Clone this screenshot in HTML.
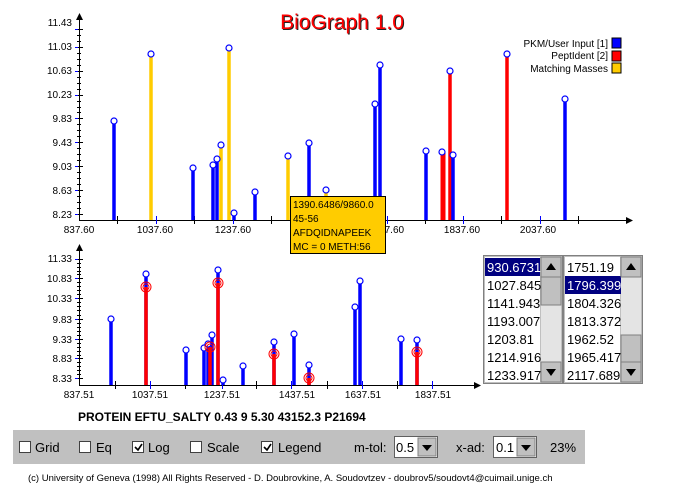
<!DOCTYPE html>
<html><head><meta charset="utf-8"><style>
body{margin:0;width:690px;height:488px;background:#fff;overflow:hidden;font-family:"Liberation Sans",sans-serif;}
svg{position:absolute;left:0;top:0}
text{font-family:"Liberation Sans",sans-serif}
</style></head><body>
<svg width="690" height="488" viewBox="0 0 690 488">
<text x="343" y="30" font-size="21" fill="#222" text-anchor="middle">BioGraph 1.0</text>
<text x="342" y="29" font-size="21" fill="#ff0000" text-anchor="middle">BioGraph 1.0</text>
<g font-size="10" text-anchor="end" fill="#000">
<text x="608" y="47">PKM/User Input [1]</text>
<text x="608" y="59">PeptIdent [2]</text>
<text x="608" y="72">Matching Masses</text>
</g>
<rect x="612" y="38" width="9" height="10" fill="#0000ff" stroke="#000"/>
<rect x="612" y="51" width="9" height="10" fill="#ff0000" stroke="#000"/>
<rect x="612" y="63" width="9" height="10" fill="#ffcc00" stroke="#000"/>
<g stroke="#000" stroke-width="1">
<line x1="79.5" y1="18" x2="79.5" y2="220"/>
<line x1="79" y1="220.5" x2="628" y2="220.5"/>
</g>
<polygon points="79.5,13 76,20 83,20" fill="#000"/>
<polygon points="633,220.5 626,217 626,224" fill="#000"/>
<g stroke="#000">
<path d="M75 29.5h8M77 35.5h4M77 41.5h4M75 47.5h8M77 53.5h4M77 59.5h4M77 65.5h4M75 71.5h8M77 77.5h4M77 83.5h4M77 89.5h4M75 95.5h8M77 101.5h4M77 107.5h4M77 112.5h4M75 118.5h8M77 124.5h4M77 130.5h4M77 136.5h4M75 142.5h8M77 148.5h4M77 154.5h4M77 160.5h4M75 166.5h8M77 172.5h4M77 178.5h4M77 184.5h4M75 190.5h8M77 196.5h4M77 202.5h4M77 208.5h4M75 214.5h8"/>
<path d="M117.5 216v8M194.5 216v8M271.5 216v8M348.5 216v8M425.5 216v8M501.5 216v8M578.5 216v8"/>
</g>
<g stroke="#0000ff"><path d="M75 29.5h3M75 47.5h3M75 71.5h3M75 95.5h3M75 118.5h3M75 142.5h3M75 166.5h3M75 190.5h3M75 214.5h3M156.5 216v8M233.5 216v8M310.5 216v8M387.5 216v8M463.5 216v8M540.5 216v8"/></g>
<g font-size="10" fill="#000" text-anchor="end">
<text x="72" y="26">11.43</text><text x="72" y="50">11.03</text><text x="72" y="74">10.63</text><text x="72" y="98">10.23</text><text x="72" y="122">9.83</text><text x="72" y="146">9.43</text><text x="72" y="170">9.03</text><text x="72" y="194">8.63</text><text x="72" y="218">8.23</text>
</g>
<g font-size="10" fill="#000" text-anchor="middle">
<text x="79" y="233">837.60</text><text x="155" y="233">1037.60</text><text x="233" y="233">1237.60</text><text x="310" y="233">1437.60</text><text x="386" y="233">1637.60</text><text x="462" y="233">1837.60</text><text x="538" y="233">2037.60</text>
</g>
<g stroke-width="3.5">
<line x1="114" y1="121" x2="114" y2="220" stroke="#0000ff"/>
<line x1="151" y1="54" x2="151" y2="220" stroke="#ffcc00"/>
<line x1="193" y1="168" x2="193" y2="220" stroke="#0000ff"/>
<line x1="213" y1="165" x2="213" y2="220" stroke="#0000ff"/>
<line x1="217" y1="159" x2="217" y2="220" stroke="#0000ff"/>
<line x1="221" y1="145" x2="221" y2="220" stroke="#ffcc00"/>
<line x1="229" y1="48" x2="229" y2="220" stroke="#ffcc00"/>
<line x1="234" y1="213" x2="234" y2="220" stroke="#0000ff"/>
<line x1="255" y1="192" x2="255" y2="220" stroke="#0000ff"/>
<line x1="288" y1="156" x2="288" y2="220" stroke="#ffcc00"/>
<line x1="309" y1="143" x2="309" y2="220" stroke="#0000ff"/>
<line x1="326" y1="190" x2="326" y2="220" stroke="#ffcc00"/>
<line x1="375" y1="104" x2="375" y2="220" stroke="#0000ff"/>
<line x1="380" y1="65" x2="380" y2="220" stroke="#0000ff"/>
<line x1="426" y1="151" x2="426" y2="220" stroke="#0000ff"/>
<line x1="443" y1="153" x2="443" y2="220" stroke="#ff0000" stroke-width="5"/>
<line x1="450" y1="71" x2="450" y2="220" stroke="#ff0000"/>
<line x1="453" y1="155" x2="453" y2="220" stroke="#0000ff"/>
<line x1="507" y1="55" x2="507" y2="220" stroke="#ff0000"/>
<line x1="565" y1="99" x2="565" y2="220" stroke="#0000ff"/>
</g>
<g fill="#fff" stroke="#0000ff" stroke-width="1.2">
<circle cx="114" cy="121" r="3"/><circle cx="151" cy="54" r="3"/><circle cx="193" cy="168" r="3"/><circle cx="213" cy="165" r="3"/><circle cx="217" cy="159" r="3"/><circle cx="221" cy="145" r="3"/><circle cx="229" cy="48" r="3"/><circle cx="234" cy="213" r="3"/><circle cx="255" cy="192" r="3"/><circle cx="288" cy="156" r="3"/><circle cx="309" cy="143" r="3"/><circle cx="326" cy="190" r="3"/><circle cx="375" cy="104" r="3"/><circle cx="380" cy="65" r="3"/><circle cx="426" cy="151" r="3"/><circle cx="442" cy="152" r="3"/><circle cx="450" cy="71" r="3"/><circle cx="453" cy="155" r="3"/><circle cx="507" cy="54" r="3"/><circle cx="565" cy="99" r="3"/>
</g>
<g stroke="#000">
<line x1="79.5" y1="249" x2="79.5" y2="385"/>
<line x1="79" y1="385.5" x2="475" y2="385.5"/>
</g>
<polygon points="79.5,244 76,251 83,251" fill="#000"/>
<polygon points="481,385.5 474,382 474,389" fill="#000"/>
<g stroke="#000">
<path d="M75 259.5h8M77 263.5h4M77 267.5h4M77 271.5h4M77 274.5h4M75 278.5h8M77 282.5h4M77 286.5h4M77 290.5h4M77 294.5h4M75 298.5h8M77 302.5h4M77 306.5h4M77 310.5h4M77 315.5h4M75 319.5h8M77 323.5h4M77 327.5h4M77 331.5h4M77 335.5h4M75 339.5h8M77 343.5h4M77 347.5h4M77 351.5h4M77 355.5h4M75 358.5h8M77 362.5h4M77 366.5h4M77 370.5h4M77 374.5h4M75 378.5h8"/>
<path d="M115.5 381v8M185.5 381v8M256.5 381v8M327.5 381v8M397.5 381v8"/>
</g>
<g stroke="#0000ff"><path d="M75 259.5h3M75 278.5h3M75 298.5h3M75 319.5h3M75 339.5h3M75 358.5h3M75 378.5h3M150.5 381v8M222.5 381v8M291.5 381v8M362.5 381v8M432.5 381v8"/></g>
<g font-size="10" fill="#000" text-anchor="end">
<text x="72" y="262">11.33</text><text x="72" y="282">10.83</text><text x="72" y="302">10.33</text><text x="72" y="323">9.83</text><text x="72" y="343">9.33</text><text x="72" y="362">8.83</text><text x="72" y="382">8.33</text>
</g>
<g font-size="10" fill="#000" text-anchor="middle">
<text x="79" y="398">837.51</text><text x="150" y="398">1037.51</text><text x="222" y="398">1237.51</text><text x="297" y="398">1437.51</text><text x="363" y="398">1637.51</text><text x="433" y="398">1837.51</text>
</g>
<g stroke-width="3.5">
<line x1="111" y1="319" x2="111" y2="385" stroke="#0000ff"/>
<line x1="146" y1="274" x2="146" y2="385" stroke="#0000ff"/>
<line x1="146" y1="287" x2="146" y2="385" stroke="#ff0000"/>
<line x1="186" y1="350" x2="186" y2="385" stroke="#0000ff"/>
<line x1="204" y1="348" x2="204" y2="385" stroke="#0000ff"/>
<line x1="208" y1="344" x2="208" y2="385" stroke="#0000ff"/>
<line x1="212" y1="335" x2="212" y2="385" stroke="#0000ff"/>
<line x1="210" y1="347" x2="210" y2="385" stroke="#ff0000"/>
<line x1="218" y1="270" x2="218" y2="385" stroke="#0000ff"/>
<line x1="218" y1="283" x2="218" y2="385" stroke="#ff0000"/>
<line x1="223" y1="380" x2="223" y2="385" stroke="#0000ff"/>
<line x1="243" y1="366" x2="243" y2="385" stroke="#0000ff"/>
<line x1="274" y1="342" x2="274" y2="385" stroke="#0000ff"/>
<line x1="274" y1="354" x2="274" y2="385" stroke="#ff0000"/>
<line x1="294" y1="334" x2="294" y2="385" stroke="#0000ff"/>
<line x1="309" y1="365" x2="309" y2="385" stroke="#0000ff"/>
<line x1="309" y1="378" x2="309" y2="385" stroke="#ff0000"/>
<line x1="355" y1="307" x2="355" y2="385" stroke="#0000ff"/>
<line x1="360" y1="281" x2="360" y2="385" stroke="#0000ff"/>
<line x1="401" y1="339" x2="401" y2="385" stroke="#0000ff"/>
<line x1="417" y1="340" x2="417" y2="385" stroke="#0000ff"/>
<line x1="417" y1="352" x2="417" y2="385" stroke="#ff0000"/>
</g>
<g fill="#fff" stroke="#0000ff" stroke-width="1.2">
<circle cx="111" cy="319" r="3"/><circle cx="146" cy="274" r="3"/><circle cx="186" cy="350" r="3"/><circle cx="204" cy="348" r="3"/><circle cx="208" cy="344" r="3"/><circle cx="212" cy="335" r="3"/><circle cx="218" cy="270" r="3"/><circle cx="223" cy="380" r="3"/><circle cx="243" cy="366" r="3"/><circle cx="274" cy="342" r="3"/><circle cx="294" cy="334" r="3"/><circle cx="309" cy="365" r="3"/><circle cx="355" cy="307" r="3"/><circle cx="360" cy="281" r="3"/><circle cx="401" cy="339" r="3"/><circle cx="417" cy="340" r="3"/>
</g>
<g fill="none" stroke="#ff0000" stroke-width="1">
<circle cx="146" cy="287" r="5"/><circle cx="146" cy="287" r="3"/>
<circle cx="210" cy="347" r="5"/><circle cx="210" cy="347" r="3"/>
<circle cx="218" cy="283" r="5"/><circle cx="218" cy="283" r="3"/>
<circle cx="274" cy="354" r="5"/><circle cx="274" cy="354" r="3"/>
<circle cx="309" cy="378" r="5"/><circle cx="309" cy="378" r="3"/>
<circle cx="417" cy="352" r="5"/><circle cx="417" cy="352" r="3"/>
</g>
<rect x="290.5" y="196.5" width="95" height="57" fill="#ffcc00" stroke="#000"/>
<g font-size="10" fill="#000">
<text x="293" y="208">1390.6486/9860.0</text><text x="293" y="222">45-56</text><text x="293" y="236">AFDQIDNAPEEK</text><text x="293" y="250">MC = 0 METH:56</text>
</g>
<g transform="translate(-4,0)">
<rect x="487.5" y="255.5" width="79" height="128" fill="#c0c0c0" stroke="#808080"/>
<rect x="489" y="257" width="55" height="125" fill="#fff"/>
<rect x="489" y="258" width="55" height="18" fill="#000080"/>
<g font-size="13" fill="#000">
<text x="491" y="272" fill="#fff">930.6731</text><text x="491" y="290">1027.845</text><text x="491" y="308">1141.943</text><text x="491" y="326">1193.007</text><text x="491" y="344">1203.81</text><text x="491" y="362">1214.916</text><text x="491" y="380">1233.917</text>
</g>
<rect x="545" y="257" width="20" height="125" fill="#e4e4e4"/>
<rect x="545" y="257" width="20" height="20" fill="#c0c0c0" stroke="#808080"/>
<rect x="545" y="277" width="20" height="28" fill="#c0c0c0" stroke="#808080"/>
<rect x="545" y="362" width="20" height="20" fill="#c0c0c0" stroke="#808080"/>
<polygon points="555,263 550,270 560,270" fill="#000"/><polygon points="555,376 550,369 560,369" fill="#000"/>
</g>
<g transform="translate(-5,0)">
<rect x="568.5" y="255.5" width="79" height="128" fill="#c0c0c0" stroke="#808080"/>
<rect x="570" y="257" width="55" height="125" fill="#fff"/>
<rect x="570" y="276" width="56" height="18" fill="#000080"/>
<g font-size="13" fill="#000">
<text x="572" y="272">1751.19</text><text x="572" y="290" fill="#fff">1796.399</text><text x="572" y="308">1804.326</text><text x="572" y="326">1813.372</text><text x="572" y="344">1962.52</text><text x="572" y="362">1965.417</text><text x="572" y="380">2117.689</text>
</g>
<rect x="626" y="257" width="20" height="125" fill="#e4e4e4"/>
<rect x="626" y="257" width="20" height="20" fill="#c0c0c0" stroke="#808080"/>
<rect x="626" y="335" width="20" height="27" fill="#c0c0c0" stroke="#808080"/>
<rect x="626" y="362" width="20" height="20" fill="#c0c0c0" stroke="#808080"/>
<polygon points="636,263 631,270 641,270" fill="#000"/><polygon points="636,376 631,369 641,369" fill="#000"/>
</g>
<text x="78" y="421" font-size="12" font-weight="bold" fill="#000">PROTEIN EFTU_SALTY  0.43 9 5.30 43152.3 P21694</text>
<rect x="13" y="430" width="572" height="34" fill="#c0c0c0"/>
<g fill="#fff" stroke="#404040">
<rect x="19.5" y="441.5" width="11" height="11"/><rect x="79.5" y="441.5" width="11" height="11"/><rect x="132.5" y="441.5" width="11" height="11"/><rect x="190.5" y="441.5" width="11" height="11"/><rect x="261.5" y="441.5" width="11" height="11"/>
</g>
<path d="M135 447l3 3 4-6M264 447l3 3 4-6" stroke="#000" stroke-width="1.6" fill="none"/>
<g font-size="13" fill="#000">
<text x="35" y="452">Grid</text><text x="96" y="452">Eq</text><text x="148" y="452">Log</text><text x="207" y="452">Scale</text><text x="278" y="452">Legend</text>
<text x="354" y="452">m-tol:</text><text x="456" y="452">x-ad:</text><text x="550" y="452">23%</text>
</g>
<rect x="394.5" y="436.5" width="43" height="21" fill="#fff" stroke="#606060"/>
<rect x="418" y="438" width="18" height="18" fill="#c0c0c0" stroke="#808080"/>
<polygon points="422,445 432,445 427,451" fill="#000"/>
<text x="396" y="452" font-size="13">0.5</text>
<rect x="493.5" y="436.5" width="43" height="21" fill="#fff" stroke="#606060"/>
<rect x="517" y="438" width="18" height="18" fill="#c0c0c0" stroke="#808080"/>
<polygon points="521,445 531,445 526,451" fill="#000"/>
<text x="496" y="452" font-size="13">0.1</text>
<text x="28" y="481" font-size="9.5" fill="#000">(c) University of Geneva (1998) All Rights Reserved - D. Doubrovkine, A. Soudovtzev - doubrov5/soudovt4@cuimail.unige.ch</text>
</svg>
</body></html>
